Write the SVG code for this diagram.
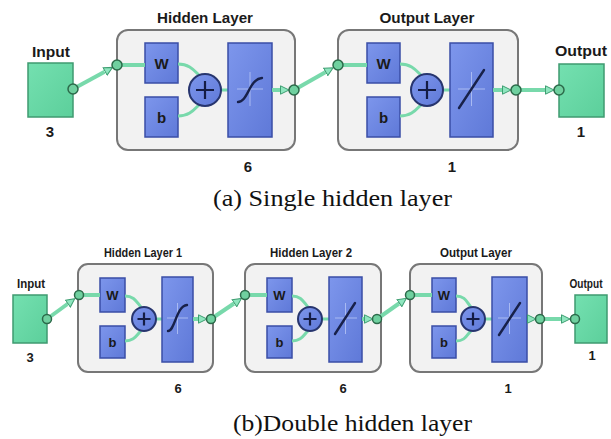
<svg xmlns="http://www.w3.org/2000/svg" width="611" height="439" viewBox="0 0 611 439">
  <defs>
    <linearGradient id="blueFill" x1="0" y1="0" x2="1" y2="1">
      <stop offset="0" stop-color="#7d96ec"/>
      <stop offset="1" stop-color="#5f79d8"/>
    </linearGradient>
    <linearGradient id="greenFill" x1="0" y1="0" x2="1" y2="1">
      <stop offset="0" stop-color="#74e0b0"/>
      <stop offset="1" stop-color="#5ccf9b"/>
    </linearGradient>
    <marker id="arrow" markerWidth="10" markerHeight="10" refX="0" refY="5" orient="auto" markerUnits="userSpaceOnUse">
      <path d="M0.5,0.8 L9,5 L0.5,9.2 Z" fill="#8fe6bf" stroke="#3f9e72" stroke-width="1"/>
    </marker>
  </defs>
  <style>
    .bg { fill: #ffffff; }
    .layer { fill: #f2f2f2; stroke: #777777; stroke-width: 2; }
    .io { fill: url(#greenFill); stroke: #3f9a70; stroke-width: 1.5; }
    .blk { fill: url(#blueFill); stroke: #3a4ea6; stroke-width: 1.5; }
    .sum { fill: url(#blueFill); stroke: #27356e; stroke-width: 2; }
    .plus { stroke: #141c44; stroke-width: 2.2; fill: none; }
    .axis { stroke: #a9baf2; stroke-width: 1; fill: none; }
    .tf { stroke: #18214a; stroke-width: 2.4; fill: none; stroke-linecap: round; }
    .wire { stroke: #78d9ab; stroke-width: 4; fill: none; }
    .wire-s { stroke: #78d9ab; stroke-width: 3; fill: none; }
    .port { fill: #6fd09f; stroke: #2c6a4a; stroke-width: 1.5; }
    .t { font-family: "Liberation Sans", Arial, sans-serif; font-weight: bold; fill: #1a1a1a; text-anchor: middle; }
    .t1 { font-size: 15px; }
    .t2 { font-size: 13px; }
    .t3 { font-size: 12px; }
    .cap { font-family: "Liberation Serif", "Times New Roman", serif; font-size: 23px; fill: #111111; }
  </style>

  <rect class="bg" x="0" y="0" width="611" height="439"/>

  <!-- ===== (a) single hidden layer ===== -->
  <g id="a-input">
    <text class="t t1" x="51" y="57" textLength="38" lengthAdjust="spacingAndGlyphs">Input</text>
    <rect class="io" x="28" y="63" width="45" height="54"/>
    <text class="t t1" x="50" y="137">3</text>
  </g>

  <g id="a-hidden">
    <text class="t t1" x="205" y="23" textLength="96" lengthAdjust="spacingAndGlyphs">Hidden Layer</text>
    <rect class="layer" x="117" y="30" width="178" height="120" rx="11"/>
    <rect class="blk" x="145" y="43" width="33" height="40"/>
    <text class="t t1" x="161.5" y="69">W</text>
    <rect class="blk" x="145" y="97" width="33" height="40"/>
    <text class="t t1" x="161.5" y="123">b</text>
    <path class="wire-s" d="M178,64 C191,64 195,72 201,77"/>
    <path class="wire-s" d="M178,116 C191,116 195,108 201,103"/>
    <line class="wire-s" x1="221" y1="90" x2="228" y2="90"/>
    <circle class="sum" cx="205" cy="90" r="16"/>
    <path class="plus" d="M196,90 H214 M205,81 V99"/>
    <rect class="blk" x="228" y="43" width="44" height="94"/>
    <path class="axis" d="M237,89 H263 M250,72 V106"/>
    <path class="tf" d="M238,102 C248,102 249,79 262,78"/>
    <text class="t t1" x="248" y="172">6</text>
  </g>

  <g id="a-output-layer">
    <text class="t t1" x="427" y="23" textLength="95" lengthAdjust="spacingAndGlyphs">Output Layer</text>
    <rect class="layer" x="338" y="30" width="180" height="120" rx="11"/>
    <rect class="blk" x="367" y="43" width="33" height="40"/>
    <text class="t t1" x="383.5" y="69">W</text>
    <rect class="blk" x="367" y="97" width="33" height="40"/>
    <text class="t t1" x="383.5" y="123">b</text>
    <path class="wire-s" d="M400,64 C413,64 417,72 423,77"/>
    <path class="wire-s" d="M400,116 C413,116 417,108 423,103"/>
    <line class="wire-s" x1="443" y1="90" x2="450" y2="90"/>
    <circle class="sum" cx="427" cy="90" r="16"/>
    <path class="plus" d="M418,90 H436 M427,81 V99"/>
    <rect class="blk" x="450" y="43" width="43" height="94"/>
    <path class="axis" d="M458,89 H485 M471.5,72 V106"/>
    <path class="tf" d="M459,108 L484,70"/>
    <text class="t t1" x="452" y="172">1</text>
  </g>

  <g id="a-output">
    <text class="t t1" x="581" y="56" textLength="52" lengthAdjust="spacingAndGlyphs">Output</text>
    <rect class="io" x="559" y="64" width="45" height="53"/>
    <text class="t t1" x="581" y="137">1</text>
  </g>

  <g id="a-connectors">
    <line class="wire" x1="73" y1="89" x2="104.7" y2="71.7" marker-end="url(#arrow)"/>
    <line class="wire" x1="117" y1="65" x2="145" y2="65"/>
    <line class="wire" x1="272" y1="90" x2="280" y2="90" marker-end="url(#arrow)"/>
    <line class="wire" x1="294" y1="90" x2="325.3" y2="72.2" marker-end="url(#arrow)"/>
    <line class="wire" x1="338" y1="65" x2="367" y2="65"/>
    <line class="wire" x1="493" y1="90" x2="502" y2="90" marker-end="url(#arrow)"/>
    <line class="wire" x1="516" y1="90" x2="545" y2="90" marker-end="url(#arrow)"/>
    <circle class="port" cx="73" cy="89" r="5"/>
    <circle class="port" cx="117" cy="65" r="5"/>
    <circle class="port" cx="294" cy="90" r="5"/>
    <circle class="port" cx="338" cy="65" r="5"/>
    <circle class="port" cx="516" cy="90" r="5"/>
    <circle class="port" cx="559" cy="90" r="5"/>
  </g>

  <text class="cap" x="213" y="206" textLength="239" lengthAdjust="spacingAndGlyphs">(a)  Single hidden layer</text>

  <!-- ===== (b) double hidden layer ===== -->
  <g id="b-input">
    <text class="t t2" x="31" y="288" textLength="28" lengthAdjust="spacingAndGlyphs">Input</text>
    <rect class="io" x="13" y="295" width="34" height="48"/>
    <text class="t t2" x="30" y="362">3</text>
  </g>

  <g id="b-hidden-1">
    <text class="t t2" x="143" y="257" textLength="78" lengthAdjust="spacingAndGlyphs">Hidden Layer 1</text>
    <rect class="layer" x="78" y="264" width="135" height="108" rx="10"/>
    <rect class="blk" x="100" y="278" width="25" height="34"/>
    <text class="t t2" x="112.5" y="300">W</text>
    <rect class="blk" x="100" y="326" width="25" height="32"/>
    <text class="t t2" x="112.5" y="347">b</text>
    <path class="wire-s" d="M125,296 C135,296 137,303 141,307"/>
    <path class="wire-s" d="M125,341 C135,341 137,334 141,331"/>
    <line class="wire-s" x1="156" y1="319" x2="162" y2="319"/>
    <circle class="sum" cx="144" cy="319" r="12"/>
    <path class="plus" d="M137.5,319 H150.5 M144,312.5 V325.5"/>
    <rect class="blk" x="162" y="277" width="31" height="85"/>
    <path class="axis" d="M167,318 H188 M177.5,303 V334"/>
    <path class="tf" d="M168,331 C175,331 176,306 187,305"/>
    <text class="t t2" x="178" y="393">6</text>
  </g>

  <g id="b-hidden-2">
    <text class="t t2" x="311" y="257" textLength="82" lengthAdjust="spacingAndGlyphs">Hidden Layer 2</text>
    <rect class="layer" x="245" y="264" width="136" height="108" rx="10"/>
    <rect class="blk" x="267" y="278" width="25" height="34"/>
    <text class="t t2" x="279.5" y="300">W</text>
    <rect class="blk" x="267" y="326" width="25" height="32"/>
    <text class="t t2" x="279.5" y="347">b</text>
    <path class="wire-s" d="M292,296 C302,296 304,303 308,307"/>
    <path class="wire-s" d="M292,341 C302,341 304,334 308,331"/>
    <line class="wire-s" x1="322" y1="319" x2="329" y2="319"/>
    <circle class="sum" cx="310" cy="319" r="12"/>
    <path class="plus" d="M303.5,319 H316.5 M310,312.5 V325.5"/>
    <rect class="blk" x="329" y="277" width="33" height="85"/>
    <path class="axis" d="M335,318 H357 M345.5,303 V334"/>
    <path class="tf" d="M335,334 L355,303"/>
    <text class="t t2" x="343" y="393">6</text>
  </g>

  <g id="b-output-layer">
    <text class="t t2" x="476" y="257" textLength="72" lengthAdjust="spacingAndGlyphs">Output Layer</text>
    <rect class="layer" x="410" y="264" width="132" height="108" rx="10"/>
    <rect class="blk" x="432" y="278" width="24" height="34"/>
    <text class="t t2" x="444" y="300">W</text>
    <rect class="blk" x="432" y="326" width="24" height="32"/>
    <text class="t t2" x="444" y="347">b</text>
    <path class="wire-s" d="M456,296 C466,296 467,303 471,307"/>
    <path class="wire-s" d="M456,341 C466,341 467,334 471,331"/>
    <line class="wire-s" x1="485" y1="319" x2="492" y2="319"/>
    <circle class="sum" cx="473" cy="319" r="12"/>
    <path class="plus" d="M466.5,319 H479.5 M473,312.5 V325.5"/>
    <rect class="blk" x="492" y="277" width="35" height="85"/>
    <path class="axis" d="M498,318 H521 M509.5,303 V334"/>
    <path class="tf" d="M499,335 L520,303"/>
    <text class="t t2" x="508" y="393">1</text>
  </g>

  <g id="b-output">
    <text class="t t3" x="586" y="288" textLength="33" lengthAdjust="spacingAndGlyphs">Output</text>
    <rect class="io" x="575" y="295" width="32" height="48"/>
    <text class="t t2" x="592" y="360">1</text>
  </g>

  <g id="b-connectors">
    <line class="wire" x1="47" y1="319" x2="67.5" y2="304" marker-end="url(#arrow)"/>
    <line class="wire" x1="79" y1="295" x2="100" y2="295"/>
    <line class="wire" x1="193" y1="319" x2="198" y2="319" marker-end="url(#arrow)"/>
    <line class="wire" x1="211" y1="319" x2="234" y2="303.5" marker-end="url(#arrow)"/>
    <line class="wire" x1="245" y1="295" x2="267" y2="295"/>
    <line class="wire" x1="362" y1="319" x2="364" y2="319" marker-end="url(#arrow)"/>
    <line class="wire" x1="377" y1="319" x2="399" y2="303.5" marker-end="url(#arrow)"/>
    <line class="wire" x1="410" y1="295" x2="432" y2="295"/>
    <line class="wire" x1="527" y1="319" x2="527" y2="319" marker-end="url(#arrow)"/>
    <line class="wire" x1="540" y1="319" x2="561" y2="319" marker-end="url(#arrow)"/>
    <circle class="port" cx="47" cy="319" r="4.5"/>
    <circle class="port" cx="79" cy="295" r="4.5"/>
    <circle class="port" cx="211" cy="319" r="4.5"/>
    <circle class="port" cx="245" cy="295" r="4.5"/>
    <circle class="port" cx="377" cy="319" r="4.5"/>
    <circle class="port" cx="410" cy="295" r="4.5"/>
    <circle class="port" cx="540" cy="319" r="4.5"/>
    <circle class="port" cx="575" cy="319" r="4.5"/>
  </g>

  <text class="cap" x="233" y="431" textLength="239" lengthAdjust="spacingAndGlyphs">(b)Double hidden layer</text>
</svg>
